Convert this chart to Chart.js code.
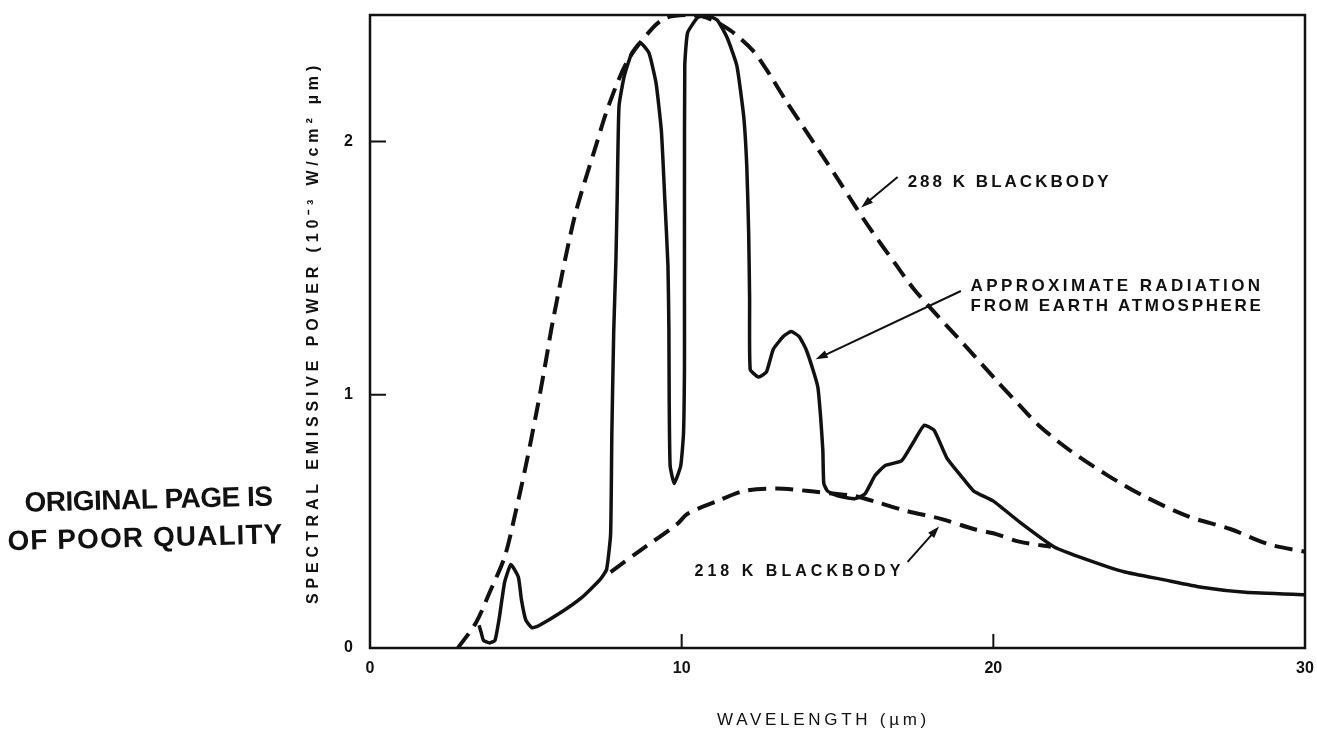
<!DOCTYPE html>
<html>
<head>
<meta charset="utf-8">
<title>Spectral emissive power</title>
<script src="https://cdn.jsdelivr.net/npm/chart.js@4.4.1/dist/chart.umd.min.js"></script>
<style>
    html, body { margin: 0; padding: 0; background: #fff; }
</style>
</head>
<body>
<canvas id="g" width="1317" height="730"></canvas>
<script>
// values
// x = wavelength (um), y = spectral emissive power (10^-3 W/cm2 um)

// 288 K blackbody (dashed)
var bb288_x = [2.82, 3.40, 3.84, 4.32, 4.66, 5.00, 5.34, 5.61, 5.88, 6.56, 7.24, 7.65, 8.27, 9.08, 9.52, 10.2, 10.8,
    11.55, 12.28, 12.85, 13.35, 13.89, 14.43, 14.97, 15.54, 16.08, 16.84, 17.5, 19.05, 20.15, 20.83, 21.45, 22.46,
    23.69, 24.83, 26.25, 27.6, 28.83, 30.0];
var bb288_y = [0, 0.10, 0.22, 0.36, 0.53, 0.72, 0.93, 1.11, 1.30, 1.70, 1.98, 2.14, 2.32, 2.45, 2.49, 2.50, 2.49,
    2.44, 2.36, 2.26, 2.16, 2.06, 1.96, 1.86, 1.75, 1.65, 1.52, 1.41, 1.20, 1.05, 0.96, 0.88, 0.78,
    0.68, 0.60, 0.52, 0.47, 0.41, 0.38];

// 218 K blackbody (dashed), visible part only
var bb218_x = [7.72, 8.61, 9.86, 10.19, 11.14, 11.99, 13.04, 14.08, 14.84, 15.57, 16.42, 17.25, 18.32, 19.37, 20.09, 20.83, 21.85];
var bb218_y = [0.30, 0.38, 0.49, 0.53, 0.58, 0.62, 0.63, 0.62, 0.61, 0.60, 0.57, 0.54, 0.51, 0.47, 0.45, 0.42, 0.40];

// approximate radiation from earth atmosphere (solid)
var atm_x = [3.50, 3.57, 3.64, 3.84, 4.01, 4.15, 4.32, 4.52, 4.76, 4.86, 5.00, 5.20, 5.44, 6.12, 6.80, 7.38, 7.59,
    7.72, 7.76, 7.82, 7.89, 7.93, 7.99, 8.16, 8.40, 8.67, 8.95, 9.18, 9.35, 9.46, 9.56, 9.59, 9.60, 9.63, 9.76,
    9.97, 10.06, 10.09, 10.09, 10.09, 10.10, 10.19, 10.51, 10.76, 11.14, 11.46, 11.77, 11.99, 12.09, 12.15, 12.18,
    12.20, 12.47, 12.72, 12.94, 13.26, 13.51, 13.77, 13.99, 14.21, 14.37, 14.46, 14.53, 14.56, 14.68, 15.03, 15.57,
    15.89, 16.20, 16.52, 17.06, 17.47, 17.78, 18.10, 18.51, 18.96, 19.37, 20.00, 20.92, 21.94, 22.98, 24.22, 25.45,
    26.68, 28.09, 30.00];
var atm_y = [0.09, 0.06, 0.03, 0.02, 0.03, 0.12, 0.26, 0.33, 0.28, 0.19, 0.11, 0.08, 0.09, 0.14, 0.20, 0.27, 0.31,
    0.45, 0.85, 1.25, 1.53, 1.77, 2.14, 2.26, 2.35, 2.39, 2.35, 2.23, 2.04, 1.77, 1.51, 1.26, 0.98, 0.72, 0.65,
    0.72, 0.85, 1.11, 1.38, 1.77, 2.30, 2.43, 2.49, 2.50, 2.48, 2.41, 2.30, 2.10, 1.90, 1.64, 1.38,
    1.10, 1.07, 1.09, 1.18, 1.23, 1.25, 1.23, 1.18, 1.10, 1.03, 0.91, 0.78, 0.65, 0.62, 0.60, 0.59,
    0.61, 0.68, 0.72, 0.74, 0.82, 0.88, 0.86, 0.75, 0.68, 0.62, 0.58, 0.49, 0.40, 0.35, 0.30, 0.27,
    0.24, 0.22, 0.21];

var xTicks = [0, 10, 20, 30];
var yTicks = [0, 1, 2];

var xTitle = 'WAVELENGTH (\u00b5m)';
var yTitle = 'SPECTRAL EMISSIVE POWER (10\u207b\u00b3 W/cm\u00b2 \u00b5m)';
var notes = ['288 K BLACKBODY', 'APPROXIMATE RADIATION', 'FROM EARTH ATMOSPHERE', '218 K BLACKBODY'];
var stamp = ['ORIGINAL PAGE IS', 'OF POOR QUALITY'];

var ink = '#111';

function toPoints(xs, ys) {
    var pts = [];
    for (var i = 0; i < xs.length; i++) {
        pts.push({ x: xs[i], y: ys[i] });
    }
    return pts;
}

// text stretched with letter spacing to a given width, drawn from its left edge
function spacedText(ctx, txt, x, y, w, font) {
    ctx.font = font;
    ctx.letterSpacing = '0px';
    var nat = ctx.measureText(txt).width;
    var sp = (w - nat) / txt.length;
    ctx.letterSpacing = sp.toFixed(2) + 'px';
    ctx.textAlign = 'left';
    ctx.textBaseline = 'middle';
    ctx.fillText(txt, x, y);
    ctx.letterSpacing = '0px';
}

function arrow(ctx, x1, y1, x2, y2) {
    var a = Math.atan2(y2 - y1, x2 - x1);
    ctx.beginPath();
    ctx.moveTo(x1, y1);
    ctx.lineTo(x2 - 6 * Math.cos(a), y2 - 6 * Math.sin(a));
    ctx.stroke();
    ctx.beginPath();
    ctx.moveTo(x2, y2);
    ctx.lineTo(x2 - 12 * Math.cos(a) + 4 * Math.sin(a), y2 - 12 * Math.sin(a) - 4 * Math.cos(a));
    ctx.lineTo(x2 - 12 * Math.cos(a) - 4 * Math.sin(a), y2 - 12 * Math.sin(a) + 4 * Math.cos(a));
    ctx.closePath();
    ctx.fill();
}

var paperPlugin = {
    id: 'paper',
    beforeDatasetsDraw: function (chart) {
        var ctx = chart.ctx;
        var a = chart.chartArea;
        var sx = chart.scales.x, sy = chart.scales.y;
        ctx.save();
        ctx.strokeStyle = ink;
        ctx.lineWidth = 2.5;
        ctx.strokeRect(a.left, a.top, a.right - a.left, a.bottom - a.top);
        // inward tick marks
        ctx.lineWidth = 2;
        ctx.beginPath();
        xTicks.forEach(function (v) {
            if (v == sx.min || v == sx.max) return;
            var px = sx.getPixelForValue(v);
            ctx.moveTo(px, a.bottom);
            ctx.lineTo(px, a.bottom - 14);
        });
        yTicks.forEach(function (v) {
            if (v == sy.min) return;
            var py = sy.getPixelForValue(v);
            ctx.moveTo(a.left, py);
            ctx.lineTo(a.left + 16, py);
        });
        ctx.stroke();
        ctx.restore();
    },
    afterDraw: function (chart) {
        var ctx = chart.ctx;
        var sx = chart.scales.x, sy = chart.scales.y;
        var X = function (v) { return sx.getPixelForValue(v); };
        var Y = function (v) { return sy.getPixelForValue(v); };
        ctx.save();
        ctx.fillStyle = ink;
        ctx.strokeStyle = ink;
        ctx.lineWidth = 2;

        // callouts
        var noteFont = 'bold 17px "Liberation Sans"';
        spacedText(ctx, notes[0], X(17.25), Y(1.84), 204, noteFont);
        arrow(ctx, X(16.93), Y(1.86), X(15.76), Y(1.74));

        spacedText(ctx, notes[1], X(19.27), Y(1.43), 293, noteFont);
        spacedText(ctx, notes[2], X(19.27), Y(1.35), 293, noteFont);
        arrow(ctx, X(18.96), Y(1.41), X(14.30), Y(1.14));

        spacedText(ctx, notes[3], X(10.41), Y(0.30), 210, 'bold 16px "Liberation Sans"');
        arrow(ctx, X(17.25), Y(0.34), X(18.26), Y(0.48));

        // axis titles
        spacedText(ctx, xTitle, 717, 720, 213, '17px "Liberation Sans"');
        ctx.save();
        ctx.translate(314, 333);
        ctx.rotate(-Math.PI / 2);
        spacedText(ctx, yTitle, -271, 0, 543, 'bold 16px "Liberation Sans"');
        ctx.restore();

        // the archive stamp at the left
        ctx.save();
        ctx.translate(145, 520);
        ctx.rotate(-0.025);
        spacedText(ctx, stamp[0], -120, -19, 248, 'bold 28px "Liberation Sans"');
        spacedText(ctx, stamp[1], -138, 19, 276, 'bold 28px "Liberation Sans"');
        ctx.restore();

        ctx.restore();
    }
};

var canvas = document.getElementById('g');
var ctx = canvas.getContext('2d');

var data = {
    datasets: [
        {
            label: '288 K blackbody',
            data: toPoints(bb288_x, bb288_y),
            borderColor: ink,
            borderWidth: 4,
            borderDash: [18, 9],
            tension: 0.3,
        },
        {
            label: '218 K blackbody',
            data: toPoints(bb218_x, bb218_y),
            borderColor: ink,
            borderWidth: 4,
            borderDash: [18, 9],
            tension: 0.3,
        },
        {
            label: 'Approximate radiation from earth atmosphere',
            data: toPoints(atm_x, atm_y),
            borderColor: ink,
            borderWidth: 3.5,
            tension: 0.15,
        },
    ],
};

var tickFont = { family: 'Liberation Sans', size: 16, weight: 'bold' };

var options = {
    responsive: false,
    animation: false,
    layout: { padding: { left: 0, right: 12, top: 15, bottom: 0 } },
    elements: { point: { radius: 0 } },
    plugins: {
        legend: { display: false },
        tooltip: { enabled: false },
    },
    scales: {
        x: {
            type: 'linear',
            position: 'bottom',
            min: 0,
            max: 30,
            grid: { display: false, drawTicks: false },
            border: { display: false },
            ticks: { stepSize: 10, includeBounds: false, color: ink, font: tickFont, padding: 11, maxRotation: 0 },
            afterFit: function (s) {
                s.height = 82;
                // end labels may hang over, the layout padding covers them
                s.paddingLeft = 0;
                s.paddingRight = 0;
            },
        },
        y: {
            type: 'linear',
            position: 'left',
            min: 0,
            max: 2.5,
            grid: { display: false, drawTicks: false },
            border: { display: false },
            ticks: { stepSize: 1, includeBounds: false, color: ink, font: tickFont, padding: 17 },
            afterFit: function (s) {
                s.width = 370;
                s.paddingTop = 0;
                s.paddingBottom = 0;
            },
        },
    },
};

var c = new Chart(ctx, {
    type: 'line',
    data: data,
    options: options,
    plugins: [paperPlugin],
});
</script>
</body>
</html>
